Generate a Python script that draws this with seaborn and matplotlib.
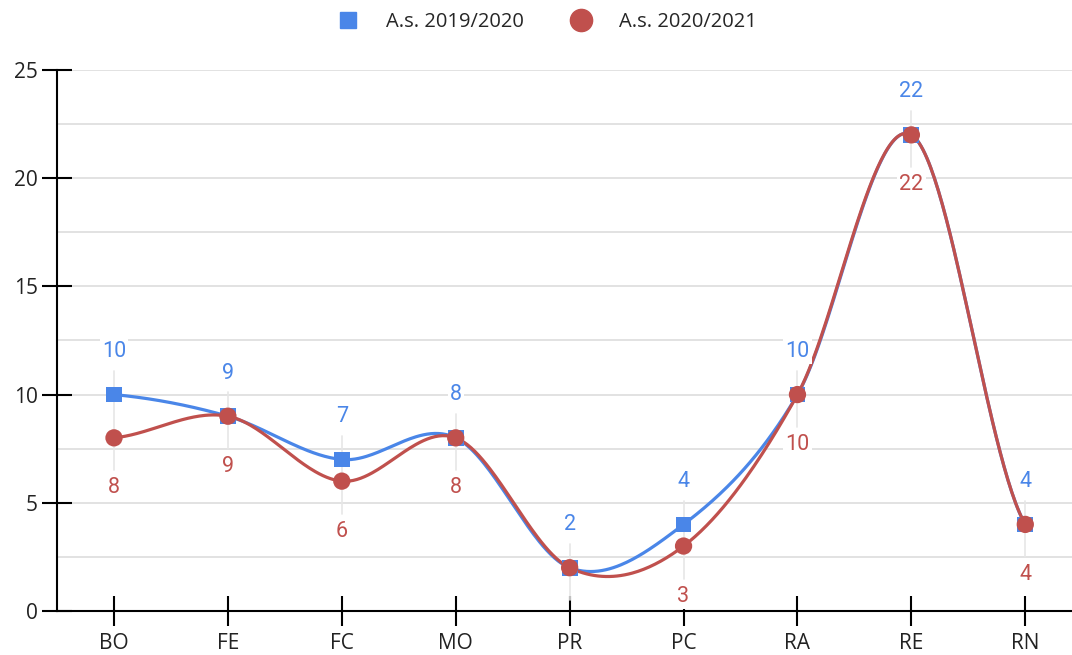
import numpy as np
import pandas as pd
import matplotlib
matplotlib.use("Agg")
import matplotlib.pyplot as plt
import seaborn as sns
from matplotlib.lines import Line2D

categories = ["BO", "FE", "FC", "MO", "PR", "PC", "RA", "RE", "RN"]
series_2019 = [10, 9, 7, 8, 2, 4, 10, 22, 4]
series_2020 = [8, 9, 6, 8, 2, 3, 10, 22, 4]
# data labels as shown (the red label at PR is hidden in the original)
labels_2019 = ["10", "9", "7", "8", "2", "4", "10", "22", "4"]
labels_2020 = ["8", "9", "6", "8", "", "3", "10", "22", "4"]
label_2019 = "A.s. 2019/2020"
label_2020 = "A.s. 2020/2021"
yticks = [0, 5, 10, 15, 20, 25]

BLUE = "#4A86E8"
RED = "#C0504D"

sns.set_theme(style="white")
plt.rcParams["font.family"] = ["Open Sans", "DejaVu Sans"]


def catmull_rom(y, n=60):
    y = np.asarray(y, dtype=float)
    p = np.concatenate([[y[0]], y, [y[-1]]])
    xs, ys = [], []
    for i in range(len(y) - 1):
        p0, p1, p2, p3 = p[i], p[i + 1], p[i + 2], p[i + 3]
        m1 = (p2 - p0) / 2.0
        m2 = (p3 - p1) / 2.0
        t = np.linspace(0, 1, n, endpoint=(i == len(y) - 2))
        h00 = 2 * t**3 - 3 * t**2 + 1
        h10 = t**3 - 2 * t**2 + t
        h01 = -2 * t**3 + 3 * t**2
        h11 = t**3 - t**2
        xs.append(i + t)
        ys.append(h00 * p1 + h10 * m1 + h01 * p2 + h11 * m2)
    return np.concatenate(xs), np.concatenate(ys)


fig = plt.figure(figsize=(10.72, 6.55), dpi=100)
ax = fig.add_axes([0.0532, 0.0672, 0.9468, 0.826])

x = np.arange(len(categories))

# faint vertical marks behind the data labels
for i in x:
    hi = max(series_2019[i], series_2020[i]) + 1.1
    lo = min(series_2019[i], series_2020[i]) - 1.5
    ax.plot([i, i], [lo, hi], color="#e6e6e6", lw=1.2, zorder=1)

cx, cy1 = catmull_rom(series_2019)
_, cy2 = catmull_rom(series_2020)
curve = pd.DataFrame({"x": np.concatenate([cx, cx]),
                      "y": np.concatenate([cy1, cy2]),
                      "s": [label_2019] * len(cx) + [label_2020] * len(cx)})
sns.lineplot(data=curve, x="x", y="y", hue="s", palette=[BLUE, RED],
             linewidth=2.3, ax=ax, legend=False, sort=False, zorder=3)

pts = pd.DataFrame({"x": np.concatenate([x, x]),
                    "y": series_2019 + series_2020,
                    "s": [label_2019] * len(x) + [label_2020] * len(x)})
sns.scatterplot(data=pts[pts.s == label_2019], x="x", y="y", color=BLUE,
                marker="s", s=130, edgecolor="none", ax=ax, legend=False, zorder=4)
sns.scatterplot(data=pts[pts.s == label_2020], x="x", y="y", color=RED,
                marker="o", s=155, edgecolor="none", ax=ax, legend=False, zorder=5)

bb = dict(boxstyle="square,pad=0.1", fc="white", ec="none")
for i in x:
    if labels_2019[i]:
        ax.annotate(labels_2019[i], (i, series_2019[i]), xytext=(0, 31),
                    textcoords="offset points", ha="center", va="center",
                    color=BLUE, fontsize=15.5, family=["Roboto", "DejaVu Sans"],
                    bbox=bb, zorder=6)
    if labels_2020[i]:
        ax.annotate(labels_2020[i], (i, series_2020[i]), xytext=(0, -36),
                    textcoords="offset points", ha="center", va="center",
                    color=RED, fontsize=15.5, family=["Roboto", "DejaVu Sans"],
                    bbox=bb, zorder=6)

ax.set_xlim(-0.5, 8.41)
ax.set_ylim(0, 25)
ax.set_xticks(x)
ax.set_xticklabels(categories)
ax.set_yticks(yticks)
ax.set_yticks(np.arange(0, 25.1, 2.5), minor=True)
ax.grid(axis="y", which="both", color="#dddddd", lw=1.2, zorder=0)
ax.set_axisbelow(True)
ax.set_xlabel("")
ax.set_ylabel("")
for side in ["top", "right"]:
    ax.spines[side].set_visible(False)
for side in ["left", "bottom"]:
    ax.spines[side].set_color("black")
    ax.spines[side].set_linewidth(1.5)
ax.spines["bottom"].set_zorder(6)
ax.tick_params(axis="both", which="major", direction="inout", length=22,
               width=1.5, color="black", labelsize=15, labelcolor="#222222",
               bottom=True, left=True)
ax.tick_params(axis="y", which="major", pad=3)
ax.tick_params(axis="x", which="major", pad=5)
ax.tick_params(axis="y", which="minor", length=0, left=False)

handles = [Line2D([], [], marker="s", color=BLUE, ls="none", markersize=11.5),
           Line2D([], [], marker="o", color=RED, ls="none", markersize=16)]
fig.legend(handles, [label_2019, label_2020], loc="center",
           bbox_to_anchor=(0.506, 0.966), ncol=2, frameon=False,
           fontsize=14.5, handletextpad=0.9, columnspacing=1.8)

fig.savefig("out.png", dpi=100)
